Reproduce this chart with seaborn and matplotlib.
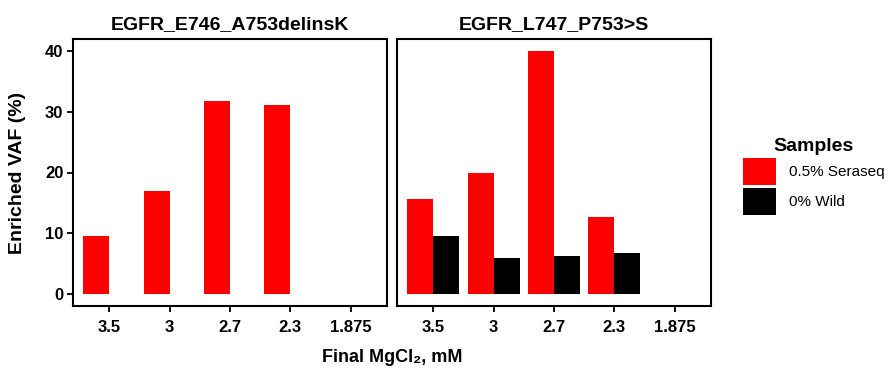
import numpy as np
import pandas as pd
import matplotlib
matplotlib.use("Agg")
import matplotlib.pyplot as plt
from matplotlib.patches import Patch
import seaborn as sns

categories = ["3.5", "3", "2.7", "2.3", "1.875"]
samples = ["0.5% Seraseq", "0% Wild"]
panels = ["EGFR_E746_A753delinsK", "EGFR_L747_P753>S"]
left_seraseq = [9.5, 17.0, 31.8, 31.2, np.nan]
left_wild = [np.nan, np.nan, np.nan, np.nan, np.nan]
right_seraseq = [15.6, 20.0, 40.0, 12.7, np.nan]
right_wild = [9.5, 5.9, 6.3, 6.8, np.nan]
yticks = [0, 10, 20, 30, 40]
colors = {"0.5% Seraseq": "#FF0000", "0% Wild": "#000000"}

def long_df(ser, wild):
    rows = []
    for c, s, w in zip(categories, ser, wild):
        rows.append({"MgCl2": c, "Samples": samples[0], "VAF": s})
        rows.append({"MgCl2": c, "Samples": samples[1], "VAF": w})
    return pd.DataFrame(rows)

data = [long_df(left_seraseq, left_wild), long_df(right_seraseq, right_wild)]

sns.set_theme(style="white")
plt.rcParams["font.family"] = ["Liberation Sans", "DejaVu Sans"]
plt.rcParams.update({"text.color": "black", "axes.labelcolor": "black",
                     "xtick.color": "black", "ytick.color": "black",
                     "axes.titlecolor": "black"})

fig = plt.figure(figsize=(8.92, 3.72), dpi=100)
axes = [fig.add_axes([73/892, 1-306/372, 314/892, 267/372]),
        fig.add_axes([397/892, 1-306/372, 314/892, 267/372])]

for i, (ax, df, title) in enumerate(zip(axes, data, panels)):
    sns.barplot(data=df, x="MgCl2", y="VAF", hue="Samples", order=categories,
                hue_order=samples, palette=colors, width=0.86, errorbar=None,
                linewidth=0, ax=ax, legend=False, saturation=1)
    ax.set_xlim(-0.6, 4.6)
    ax.set_ylim(-2, 42)
    ax.set_title(title, fontsize=14, fontweight="bold", pad=7, color="black")
    ax.set_xlabel("")
    ax.set_ylabel("")
    for sp in ax.spines.values():
        sp.set_visible(True)
        sp.set_color("black")
        sp.set_linewidth(1.5)
    ax.tick_params(axis="x", bottom=True, length=4, width=1.3, color="black",
                   labelcolor="black", labelsize=12, pad=6)
    for lab in ax.get_xticklabels():
        lab.set_fontweight("bold")
    if i == 0:
        ax.set_yticks(yticks)
        ax.set_yticklabels([str(v) for v in yticks], fontsize=12, fontweight="bold")
        ax.tick_params(axis="y", left=True, length=4, width=1.3, color="black",
                       labelcolor="black", pad=3)
    else:
        ax.set_yticks([])

fig.text(18/892, 1-173/372, "Enriched VAF (%)", rotation=90, ha="center", va="center",
         fontsize=14, fontweight="bold", color="black")
fig.text(392/892, 1-357/372, "Final MgCl\u2082, mM", ha="center", va="center",
         fontsize=13, fontweight="bold", color="black")

handles = [Patch(facecolor=colors[s], edgecolor="none") for s in samples]
leg = fig.legend(handles, samples, title="Samples", loc="upper left",
                 bbox_to_anchor=(729/892, 1-124/372), frameon=False, fontsize=11,
                 handlelength=2.2, handleheight=2.34, labelspacing=0.2,
                 handletextpad=0.8)
leg.get_title().set_fontweight("bold")
leg.get_title().set_fontsize(14)
leg.get_title().set_color("black")
for t in leg.get_texts():
    t.set_color("black")

fig.savefig("out.png", dpi=100)
